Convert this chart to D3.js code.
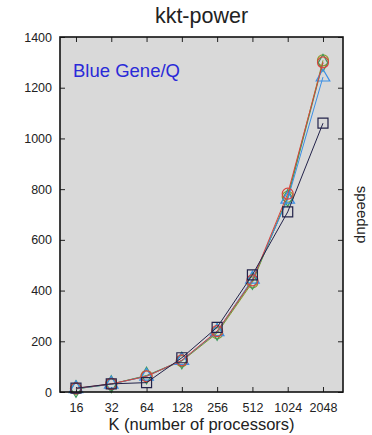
<!DOCTYPE html>
<html><head><meta charset="utf-8">
<script src="https://cdn.jsdelivr.net/npm/d3@7"></script>
<style>body{margin:0;background:#fff}svg{display:block}</style>
</head><body>
<svg id="c" width="372" height="435"></svg>
<script>
const categories = ["16","32","64","128","256","512","1024","2048"];
const yTicks = [0,200,400,600,800,1000,1200,1400];
const squareNavy = [15,32,37,135,255,462,710,1060];
const circleRed = [14,32,62,125,240,440,782,1300];
const triangleBlue = [13,31,62,124,238,445,760,1242];
const diamondGreen = [12,31,65,124,237,438,765,1298];
const circleOlive = [13,31,63,122,232,432,770,1308];

const series = [
  {name:"olive", values:circleOlive, color:"#8c9a2a", sym:d3.symbolCircle, size:95},
  {name:"green", values:diamondGreen, color:"#3c9a5c", sym:d3.symbolDiamond, size:80},
  {name:"blue", values:triangleBlue, color:"#3a8fe6", sym:d3.symbolTriangle, size:80},
  {name:"red", values:circleRed, color:"#d8443c", sym:d3.symbolCircle, size:95},
  {name:"navy", values:squareNavy, color:"#23234a", sym:d3.symbolSquare, size:100}
];

const L=60,R=343,T=37,B=392;
const ff="Liberation Sans, Arial, sans-serif";
const svg=d3.select("#c");
const x=d3.scaleLinear().domain([-0.453,7.567]).range([L,R]);
const y=d3.scaleLinear().domain([0,1400]).range([B,T]);

svg.append("rect").attr("x",L).attr("y",T).attr("width",R-L).attr("height",B-T).attr("fill","#d9d9d9");

const idx=categories.map((c,i)=>i);
const axBottom=d3.axisBottom(x).tickValues(idx).tickFormat(i=>categories[i]).tickSizeInner(-5).tickSizeOuter(0).tickPadding(11);
const axTop=d3.axisTop(x).tickValues(idx).tickFormat("").tickSizeInner(-5).tickSizeOuter(0);
const axLeft=d3.axisLeft(y).tickValues(yTicks).tickFormat(d3.format("d")).tickSizeInner(-5).tickSizeOuter(0).tickPadding(8);
const axRight=d3.axisRight(y).tickValues(yTicks).tickFormat("").tickSizeInner(-5).tickSizeOuter(0);
function style(g){g.select(".domain").remove();g.selectAll("line").attr("stroke","#222");g.selectAll("text").attr("fill","#222").attr("font-size",12.5).attr("font-family",ff);}
svg.append("g").attr("transform",`translate(0,${B})`).call(axBottom).call(style);
svg.append("g").attr("transform",`translate(0,${T})`).call(axTop).call(style);
svg.append("g").attr("transform",`translate(${L},0)`).call(axLeft).call(style);
svg.append("g").attr("transform",`translate(${R},0)`).call(axRight).call(style);

const line=d3.line().x((d,i)=>x(i)).y(d=>y(d));
series.forEach(s=>{
  const g=svg.append("g");
  g.append("path").datum(s.values).attr("d",line).attr("fill","none").attr("stroke",s.color).attr("stroke-width",1);
  g.selectAll("path.m").data(s.values).join("path").attr("class","m")
    .attr("transform",(d,i)=>`translate(${x(i)},${y(d)})`)
    .attr("d",d3.symbol().type(s.sym).size(s.size)).attr("fill","none").attr("stroke",s.color).attr("stroke-width",1.2);
});

svg.append("rect").attr("x",L).attr("y",T).attr("width",R-L).attr("height",B-T).attr("fill","none").attr("stroke","#111").attr("stroke-width",1.6);

svg.append("text").attr("x",(L+R)/2).attr("y",23).attr("text-anchor","middle").attr("font-family",ff).attr("font-size",21.5).attr("fill","#222").text("kkt-power");
svg.append("text").attr("x",73).attr("y",77).attr("font-family",ff).attr("font-size",18.5).attr("fill","#2a2ad8").text("Blue Gene/Q");
svg.append("text").attr("x",(L+R)/2).attr("y",430).attr("text-anchor","middle").attr("font-family",ff).attr("font-size",16.5).attr("fill","#222").text("K (number of processors)");
svg.append("text").attr("transform",`translate(357,${(T+B)/2}) rotate(90)`).attr("text-anchor","middle").attr("font-family",ff).attr("font-size",15).attr("fill","#222").text("speedup");
</script>
</body></html>
